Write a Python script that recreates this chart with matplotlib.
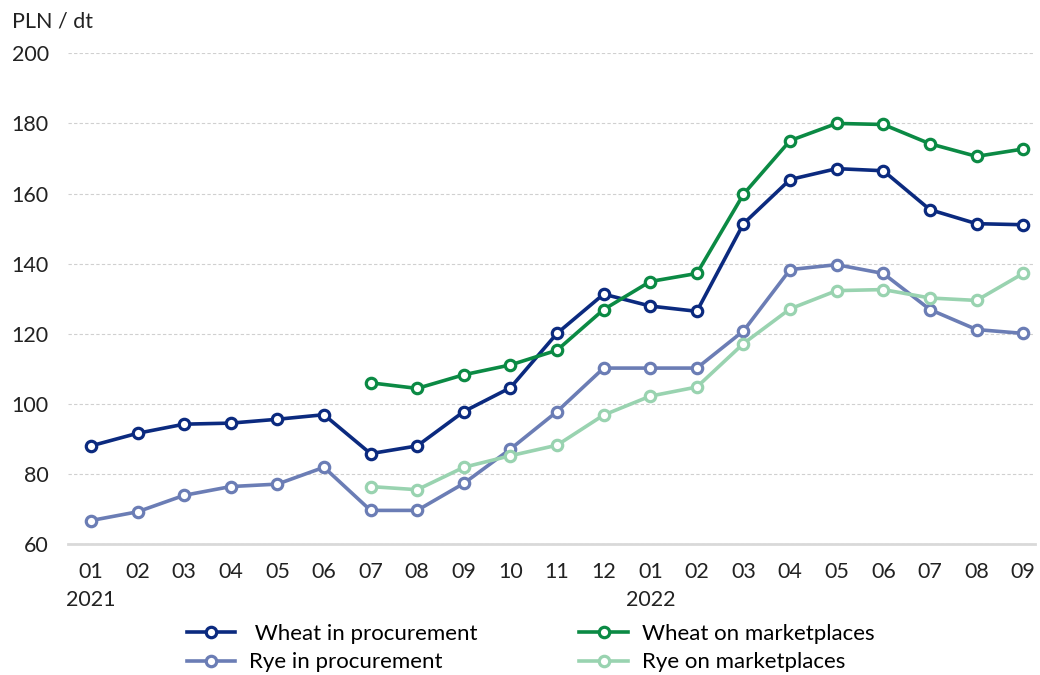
import matplotlib
matplotlib.use("Agg")
import matplotlib.pyplot as plt
import matplotlib.transforms as mtransforms
import numpy as np

months = ["01", "02", "03", "04", "05", "06", "07", "08", "09", "10", "11", "12",
          "01", "02", "03", "04", "05", "06", "07", "08", "09"]
years = {0: "2021", 12: "2022"}

wheat_proc = [88.0, 91.6, 94.2, 94.5, 95.6, 96.9, 85.8, 88.0, 97.8, 104.6, 120.1, 131.3,
              127.9, 126.4, 151.4, 164.0, 167.1, 166.5, 155.4, 151.4, 151.1]
wheat_market = [None, None, None, None, None, None, 106.0, 104.4, 108.3, 111.1, 115.3, 126.9,
                134.9, 137.2, 159.8, 175.1, 180.0, 179.7, 174.2, 170.6, 172.7]
rye_proc = [66.7, 69.2, 73.9, 76.4, 77.1, 81.9, 69.6, 69.6, 77.3, 87.1, 97.8, 110.2,
            110.2, 110.2, 120.8, 138.3, 139.7, 137.2, 126.9, 121.2, 120.1]
rye_market = [None, None, None, None, None, None, 76.4, 75.5, 81.9, 85.2, 88.2, 96.8,
              102.2, 104.8, 117.2, 127.1, 132.3, 132.6, 130.2, 129.5, 137.2]

series = [
    (" Wheat in procurement", wheat_proc, "#0b2a7f"),
    ("Rye in procurement", rye_proc, "#6b7db5"),
    ("Wheat on marketplaces", wheat_market, "#0b8a44"),
    ("Rye on marketplaces", rye_market, "#99d3b0"),
]

plt.rcParams["font.family"] = ["Lato", "DejaVu Sans"]

fig = plt.figure(figsize=(10.4, 6.75), dpi=100)
ax = fig.add_axes([0.065, 0.194, 0.93, 0.727])

x = np.arange(len(months))
handles = []
for label, vals, color in series:
    y = np.array([np.nan if v is None else v for v in vals], dtype=float)
    h, = ax.plot(x, y, color=color, linewidth=2.6, marker="o", markersize=7.5,
                 markerfacecolor="white", markeredgecolor=color, markeredgewidth=2.3,
                 label=label, zorder=3)
    handles.append(h)

ax.set_xlim(-0.5, 20.25)
ax.set_ylim(60, 200)
ax.set_yticks(np.arange(60, 201, 20))
ax.set_xticks(x)
ax.set_xticklabels(months)
ax.tick_params(axis="both", length=0, labelsize=15.5, colors="#222222")
ax.tick_params(axis="x", pad=13)
ax.tick_params(axis="y", pad=13.5)

ax.yaxis.grid(True, linestyle=(0, (3, 2)), color="#d0d0d0", linewidth=0.8)
for s in ["top", "right", "left"]:
    ax.spines[s].set_visible(False)
ax.spines["bottom"].set_color("#d9d9d9")
ax.spines["bottom"].set_linewidth(2)

trans = mtransforms.blended_transform_factory(ax.transData, fig.transFigure)
for i, yr in years.items():
    ax.text(i, 1 - 600 / 675, yr, transform=trans, ha="center", va="center",
            fontsize=15.5, color="#222222")

fig.text(12 / 1040, 1 - 22 / 675, "PLN / dt", ha="left", va="center",
         fontsize=15.5, color="#222222")

fig.legend(handles=handles, loc="center", bbox_to_anchor=(0.51, 1 - 648 / 675),
           ncol=2, frameon=False, fontsize=16, handlelength=2.2,
           columnspacing=4.6, labelspacing=0.4, handletextpad=0.6)

plt.savefig("out.png", dpi=100)
plt.close()
